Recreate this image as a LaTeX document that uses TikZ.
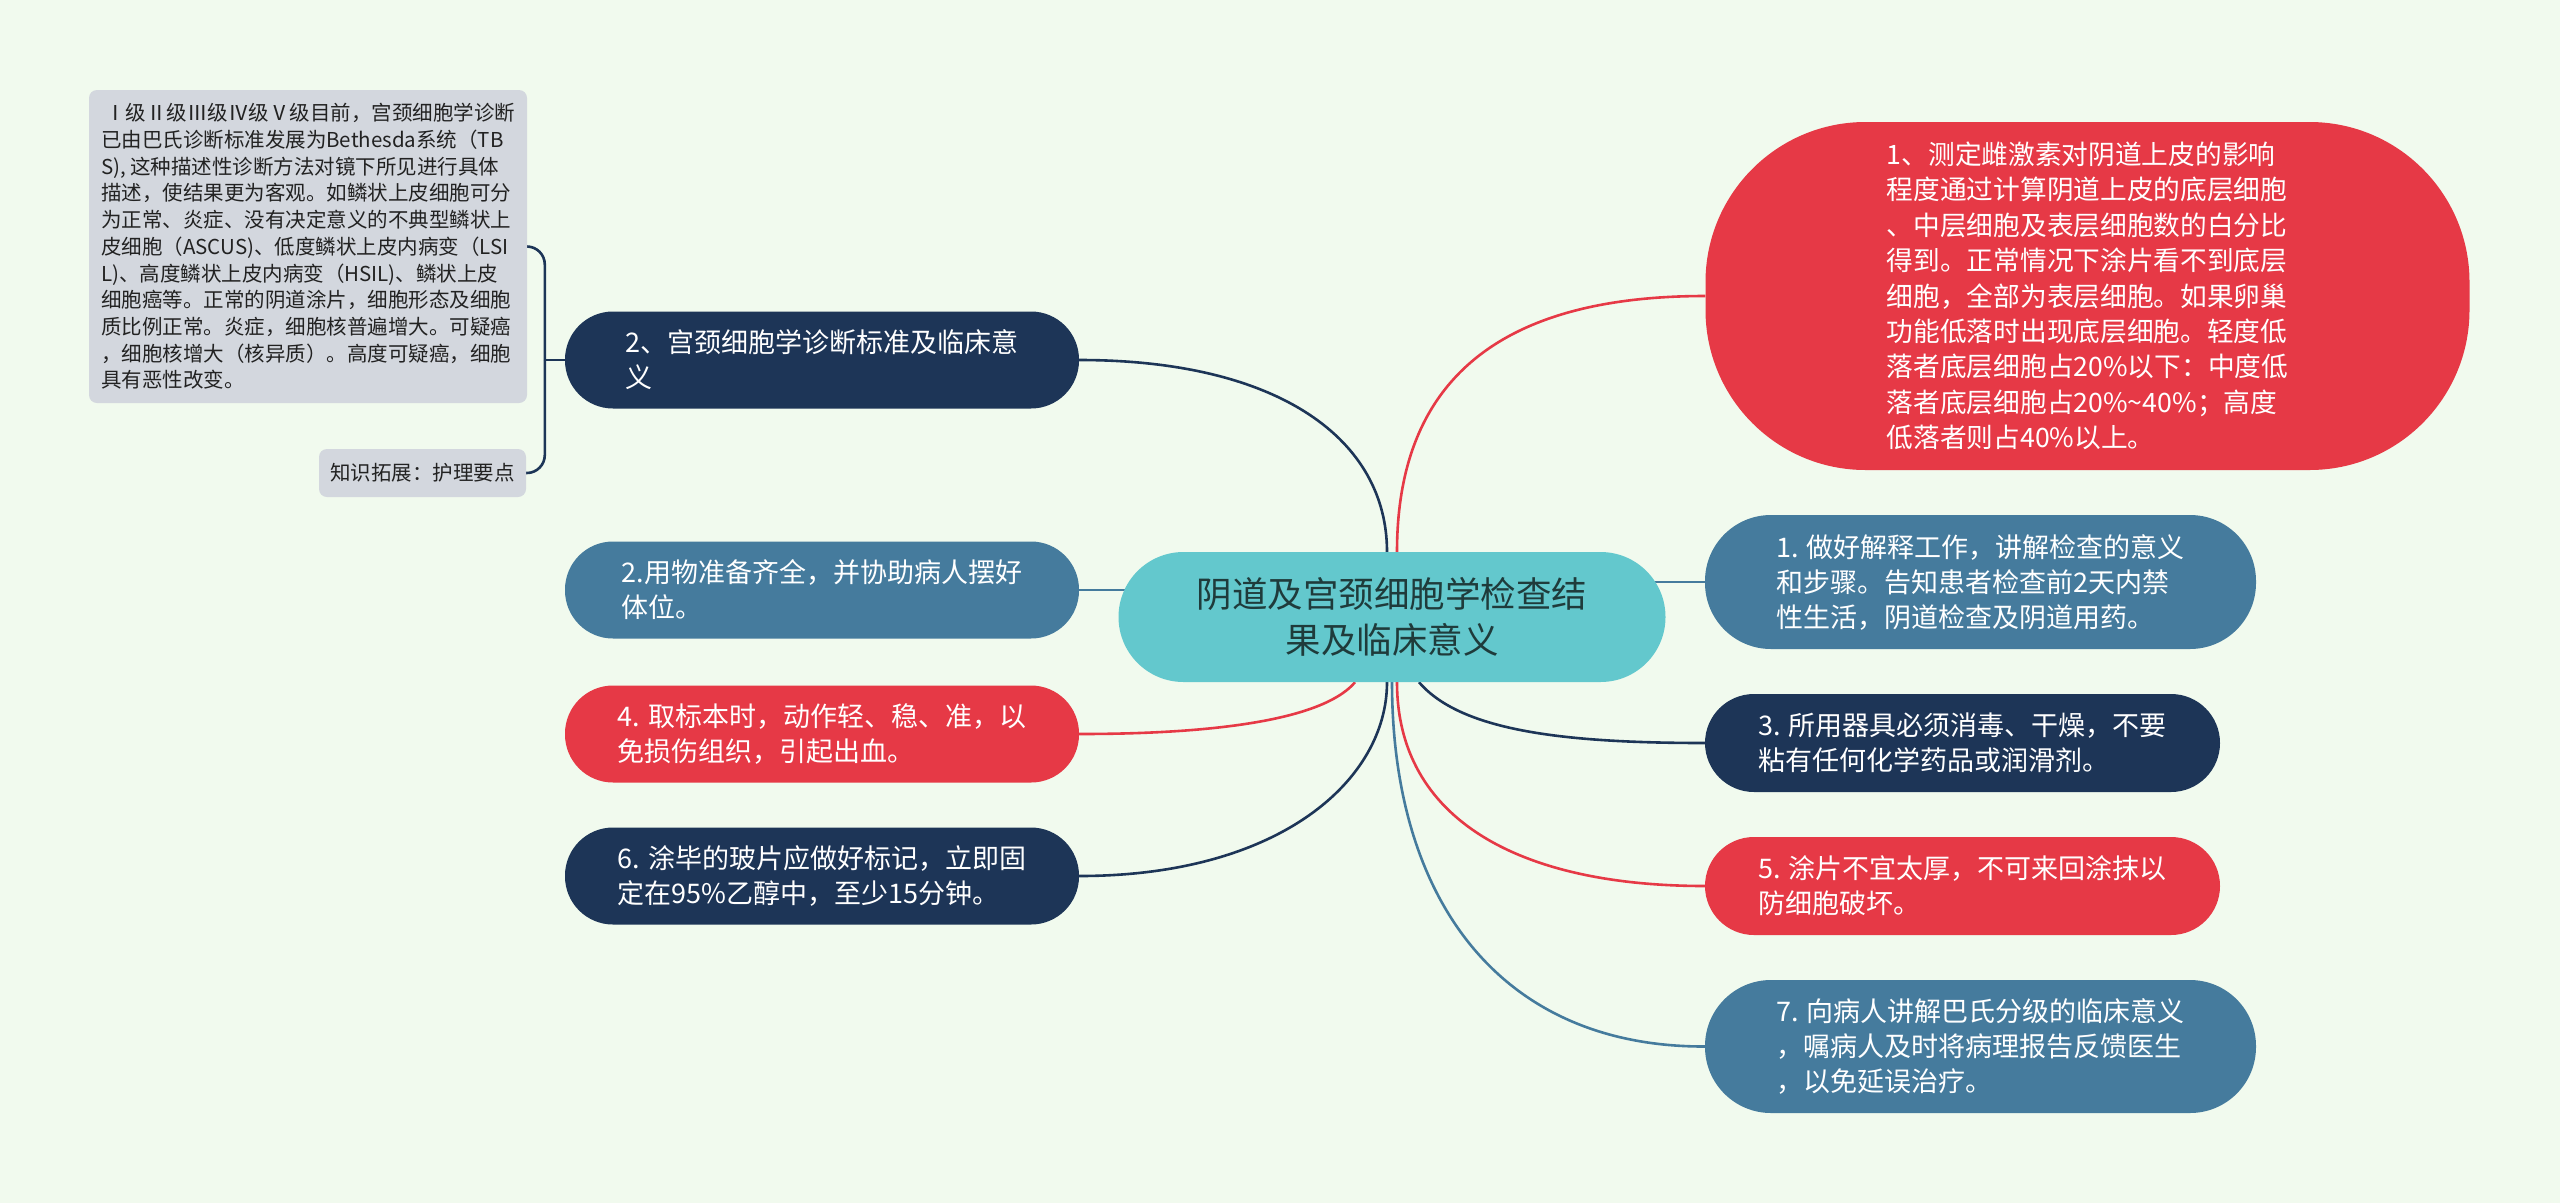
\documentclass[tikz,border=0pt]{standalone}
\usepackage{fontspec}
\setmainfont{Noto Sans CJK SC}
\usetikzlibrary{backgrounds}
\definecolor{bgc}{HTML}{F1FAEE}
\definecolor{cnavy}{HTML}{1D3557}
\definecolor{csteel}{HTML}{457B9D}
\definecolor{cred}{HTML}{E63946}
\definecolor{cteal}{HTML}{63C8CD}
\definecolor{cgray}{HTML}{D3D7DE}
\definecolor{ctitle}{HTML}{1F3B3B}
\definecolor{cgtext}{HTML}{222222}
\tikzset{
  pill/.style={draw=none, align=left, text=white, inner sep=0pt,
    font=\fontsize{27}{35}\selectfont},
  graybox/.style={draw=none, fill=cgray, align=left, text=cgtext, inner sep=0pt,
    rounded corners=8pt, font=\fontsize{20.5}{26.7}\selectfont},
  conn/.style={line width=2.6pt},
}
\begin{document}
\begin{tikzpicture}[x=1pt,y=-1pt]
\useasboundingbox (0,0) rectangle (2560,1203);
% center
\node[draw=none, fill=cteal, text=ctitle, align=center, inner sep=0pt,
  minimum width=547pt, minimum height=130pt, rounded corners=65pt,
  font=\fontsize{35.5}{46}\selectfont] (c) at (1392,617)
  {阴道及宫颈细胞学检查结\\果及临床意义};
% left nodes
\node[pill, fill=cnavy, minimum width=514pt, minimum height=97pt, rounded corners=48pt]
  (n2a) at (822,360) {2、宫颈细胞学诊断标准及临床意\\义};
\node[pill, fill=csteel, minimum width=514pt, minimum height=97pt, rounded corners=48pt]
  (n2b) at (822,590) {2.用物准备齐全，并协助病人摆好\\体位。};
\node[pill, fill=cred, minimum width=514pt, minimum height=97pt, rounded corners=48pt]
  (n4) at (822,734) {4. 取标本时，动作轻、稳、准，以\\免损伤组织，引起出血。};
\node[pill, fill=cnavy, minimum width=514pt, minimum height=97pt, rounded corners=48pt]
  (n6) at (822,876) {6. 涂毕的玻片应做好标记，立即固\\定在95\%乙醇中，至少15分钟。};
% gray boxes
\node[graybox, minimum width=438pt, minimum height=313pt] (g1) at (308,246.5)
  {\hspace*{4pt}Ⅰ级Ⅱ级Ⅲ级Ⅳ级Ⅴ级目前，宫颈细胞学诊断\\
   已由巴氏诊断标准发展为Bethesda系统（TB\\
   S), 这种描述性诊断方法对镜下所见进行具体\\
   描述，使结果更为客观。如鳞状上皮细胞可分\\
   为正常、炎症、没有决定意义的不典型鳞状上\\
   皮细胞（ASCUS)、低度鳞状上皮内病变（LSI\\
   L)、高度鳞状上皮内病变（HSIL)、鳞状上皮\\
   细胞癌等。正常的阴道涂片，细胞形态及细胞\\
   质比例正常。炎症，细胞核普遍增大。可疑癌\\
   ，细胞核增大（核异质）。高度可疑癌，细胞\\
   具有恶性改变。};
\node[graybox, minimum width=207pt, minimum height=48pt] (g2) at (422.5,473)
  {知识拓展：护理要点};
% right nodes
\node[pill, fill=cred, minimum width=764pt, minimum height=348pt, rounded corners=160pt,
  font=\fontsize{26.7}{35.4}\selectfont]
  (r0) at (2087.5,296) {1、测定雌激素对阴道上皮的影响\\
   程度通过计算阴道上皮的底层细胞\\
   、中层细胞及表层细胞数的白分比\\
   得到。正常情况下涂片看不到底层\\
   细胞，全部为表层细胞。如果卵巢\\
   功能低落时出现底层细胞。轻度低\\
   落者底层细胞占20\%以下：中度低\\
   落者底层细胞占20\%\textasciitilde40\%；高度\\
   低落者则占40\%以上。};
\node[pill, fill=csteel, minimum width=551pt, minimum height=134pt, rounded corners=66pt]
  (r1) at (1980.5,582) {1. 做好解释工作，讲解检查的意义\\和步骤。告知患者检查前2天内禁\\性生活，阴道检查及阴道用药。};
\node[pill, fill=cnavy, minimum width=515pt, minimum height=98pt, rounded corners=49pt]
  (r3) at (1962.5,743) {3. 所用器具必须消毒、干燥，不要\\粘有任何化学药品或润滑剂。};
\node[pill, fill=cred, minimum width=515pt, minimum height=98pt, rounded corners=49pt]
  (r5) at (1962.5,886) {5. 涂片不宜太厚，不可来回涂抹以\\防细胞破坏。};
\node[pill, fill=csteel, minimum width=551pt, minimum height=133pt, rounded corners=66pt]
  (r7) at (1980.5,1046.5) {7. 向病人讲解巴氏分级的临床意义\\，嘱病人及时将病理报告反馈医生\\，以免延误治疗。};
\coordinate (bj) at ([xshift=-20pt]n2a.west);
\begin{scope}[on background layer]
  \fill[bgc] (0,0) rectangle (2560,1203);
  % bracket
  \draw[conn, cnavy] (n2a.west) -- (bj);
  \draw[conn, cnavy, rounded corners=18pt] (bj) |- (g1.east);
  \draw[conn, cnavy, rounded corners=18pt] (bj) |- (g2.east);
  % left connectors
  \draw[conn, cnavy] (n2a.east) .. controls (1280,360) and (1387,440) .. ([xshift=-5pt]c.north);
  \draw[conn, csteel] (n2b.east) -- (n2b.east -| c.center);
  \draw[conn, cred] (n4.east) .. controls (1250,734) and (1330,712) .. ([xshift=-37pt]c.south);
  \draw[conn, cnavy] (n6.east) .. controls (1280,876) and (1387,780) .. ([xshift=-5pt]c.south);
  % right connectors
  \draw[conn, cred] ([xshift=5pt]c.north) .. controls (1397,380) and (1500,296) .. (r0.west);
  \draw[conn, csteel] (c.center |- r1.west) -- (r1.west);
  \draw[conn, cnavy] ([xshift=27pt]c.south) .. controls (1460,730) and (1560,743) .. (r3.west);
  \draw[conn, cred] ([xshift=5pt]c.south) .. controls (1397,820) and (1520,886) .. (r5.west);
  \draw[conn, csteel] (c.south) .. controls (1392,900) and (1500,1047) .. (r7.west);
\end{scope}
\end{tikzpicture}
\end{document}
